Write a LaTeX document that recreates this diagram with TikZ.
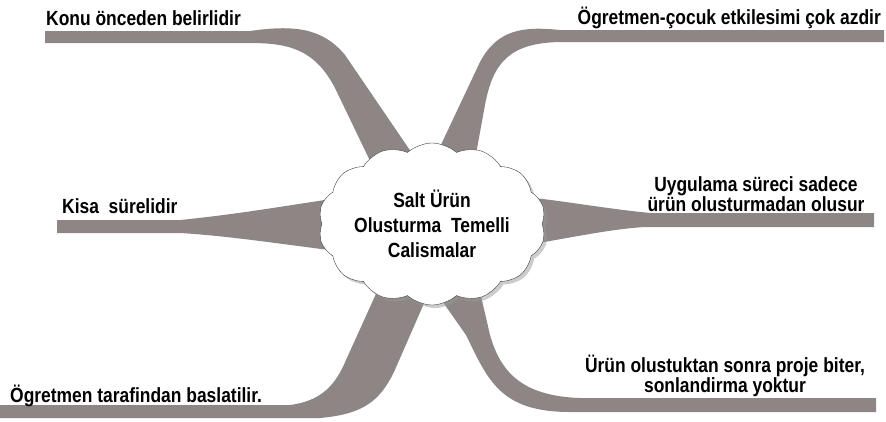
\documentclass[tikz,border=0pt]{standalone}
\usepackage{fontspec}
\setmainfont{Liberation Sans}[FakeStretch=0.85]
\usetikzlibrary{shapes.symbols,shadows}
\definecolor{branchgray}{RGB}{142,134,133}
\tikzset{
  branch/.style={fill=branchgray, draw=none},
  leaf/.style={font=\bfseries\fontsize{20.5}{20}\selectfont, inner sep=0pt, align=center},
  hub/.style={cloud, cloud puffs=14, cloud puff arc=85, aspect=1.5, draw=black!75, fill=white,
    minimum width=204pt, minimum height=134pt, inner sep=0pt, align=center,
    font=\bfseries\fontsize{20.5}{25}\selectfont,
    drop shadow={shadow xshift=3pt, shadow yshift=-3pt, fill=black!40}}
}
\begin{document}
\begin{tikzpicture}[x=1pt, y=-1pt]
      \useasboundingbox (0,0) rectangle (886,421);
      \fill[branch] (45,31) -- (250,31) .. controls (292,25) and (322,27) .. (345,55) -- (420,165)
        -- (372,165) -- (335,88) .. controls (315,50) and (290,43) .. (250,43) -- (45,43) -- cycle;
      \fill[branch] (884,30) -- (560,30) .. controls (522,26) and (497,30) .. (480,62) -- (430,168)
        -- (474,165) -- (485,105) .. controls (493,62) and (510,43) .. (560,42) -- (884,42) -- cycle;
      \fill[branch] (57,220) -- (180,220) .. controls (240,214) and (290,205) .. (345,197)
        -- (345,252) .. controls (280,244) and (230,236) .. (180,233) -- (57,233) -- cycle;
      \fill[branch] (874,213) -- (650,213) .. controls (600,208) and (560,200) .. (515,196)
        -- (515,247) .. controls (570,238) and (610,229) .. (645,227) -- (874,227) -- cycle;
      \fill[branch] (0,405) -- (290,405) .. controls (322,401) and (336,384) .. (346,360) -- (380,285)
        -- (432,285) -- (394,372) .. controls (380,400) and (365,414) .. (320,418) -- (0,418) -- cycle;
      \fill[branch] (876,398) -- (580,398) .. controls (520,396) and (500,370) .. (490,335) -- (478,283)
        -- (433,288) -- (466,335) .. controls (488,380) and (500,412) .. (570,412) -- (876,412) -- cycle;
      \node[hub] (core) at (432,224) {Salt Ürün\\Olusturma~~Temelli\\Calismalar};
      \node[leaf, anchor=base west] (konu) at (46,25) {Konu önceden belirlidir};
      \node[leaf, anchor=base east] (etkilesim) at (881,24) {Ögretmen-çocuk etkilesimi çok azdir};
      \node[leaf, anchor=base west] (kisa) at (62,213) {Kisa~~sürelidir};
      \node[leaf] (uygulama) at (756,194) {Uygulama süreci sadece\\ürün olusturmadan olusur};
      \node[leaf, anchor=base west] (baslatma) at (10,402) {Ögretmen tarafindan baslatilir.};
      \node[leaf] (bitis) at (725,376) {Ürün olustuktan sonra proje biter,\\sonlandirma yoktur};
\end{tikzpicture}
\end{document}
